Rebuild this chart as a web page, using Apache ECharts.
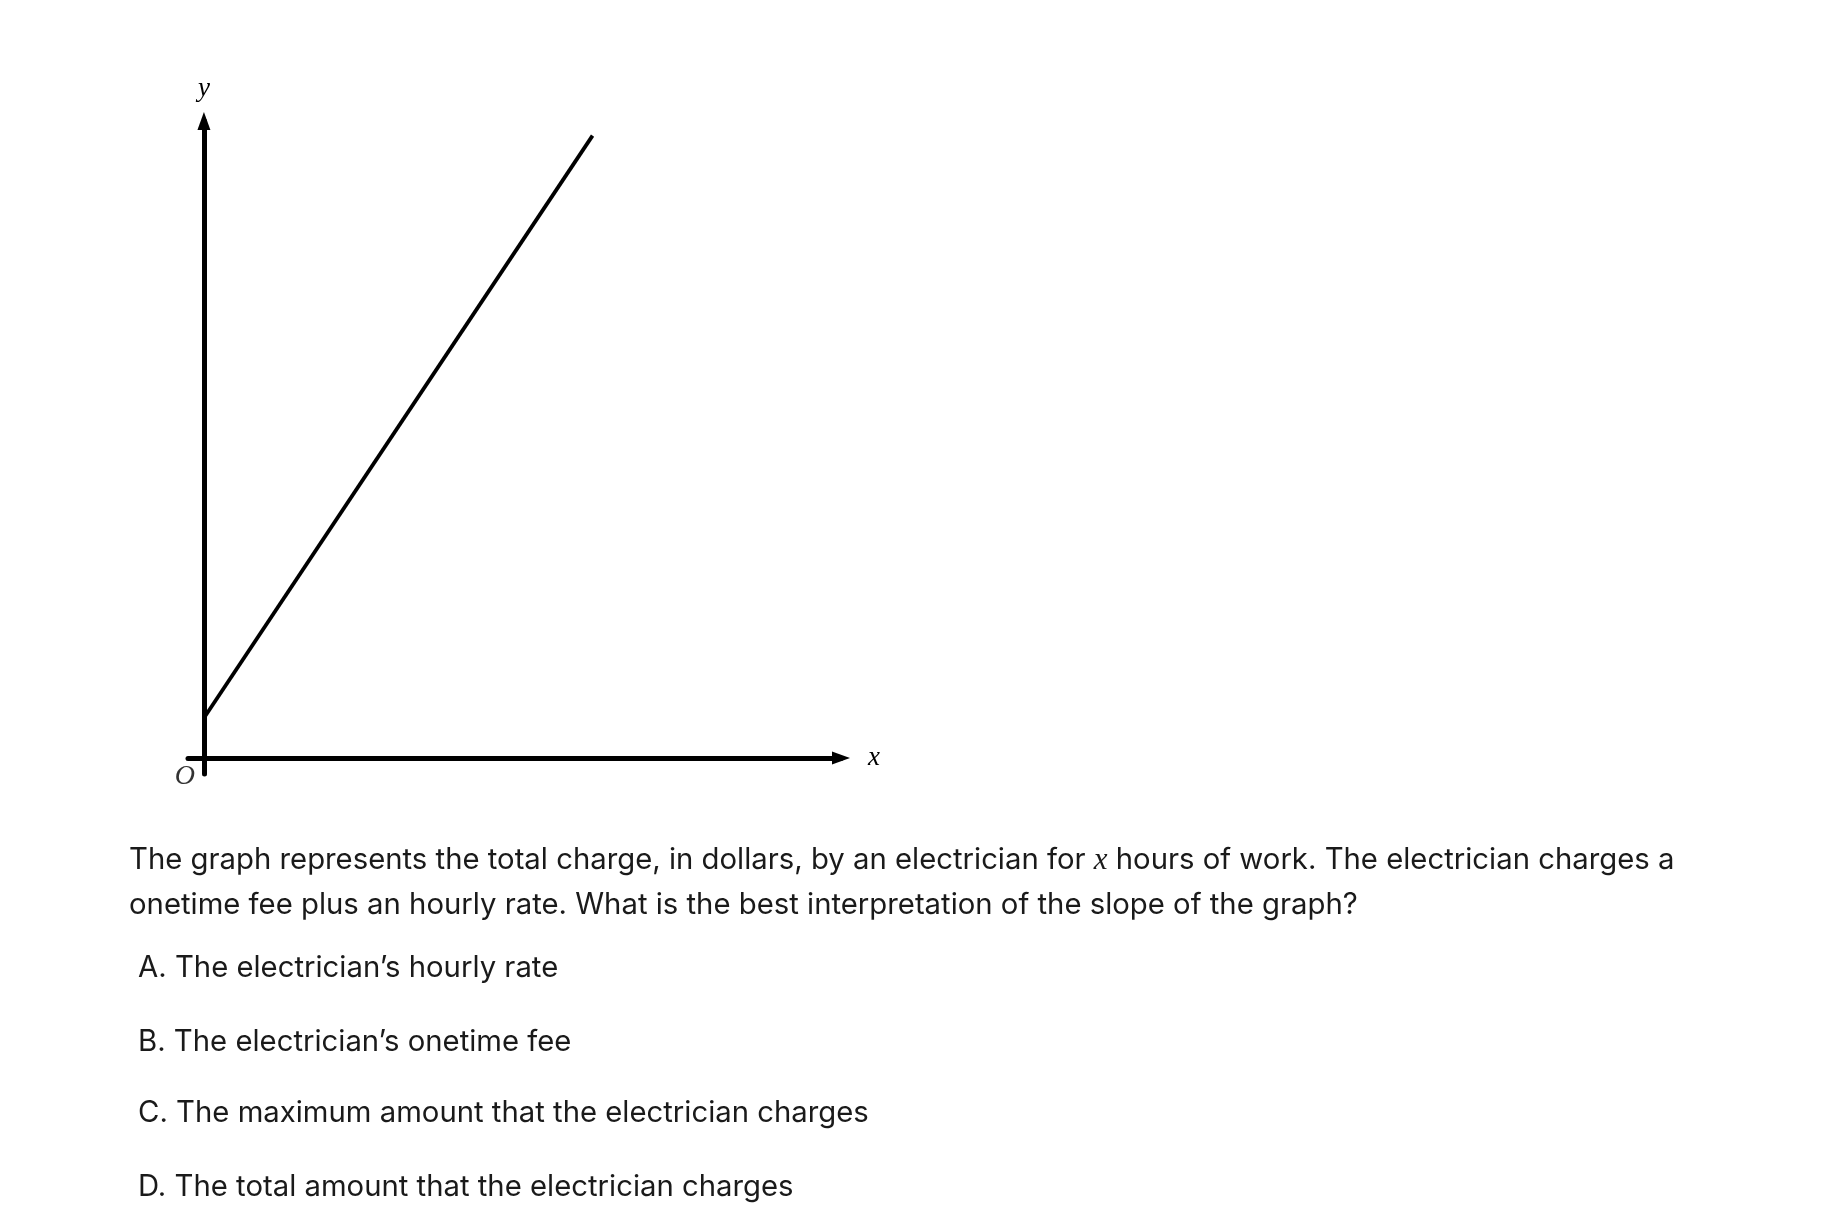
<!DOCTYPE html>
<html><head><meta charset="utf-8">
<script src="https://cdn.jsdelivr.net/npm/echarts@6/dist/echarts.min.js"></script>
<style>html,body{margin:0;padding:0;background:#fff}#c{width:1836px;height:1232px}</style>
</head><body><div id="c"></div>
<script>
// Data
const lineX = [0, 6.1];
const lineY = [0.63, 9.77];
const xName = 'x';
const yName = 'y';
const originLabel = 'O';
const questionLine1 = 'The graph represents the total charge, in dollars, by an electrician for {m|x} hours of work. The electrician charges a';
const questionLine2 = 'onetime fee plus an hourly rate. What is the best interpretation of the slope of the graph?';
const choices = [
  'A. The electrician\u2019s hourly rate',
  'B. The electrician\u2019s onetime fee',
  'C. The maximum amount that the electrician charges',
  'D. The total amount that the electrician charges'
];

const textFont = 'Inter, "Noto Sans", sans-serif';
const textColor = '#1a1a1a';
const textSize = 29.3;
const questionY = [859, 905];
const choiceY = [968, 1042, 1113, 1187];

const chart = echarts.init(document.getElementById('c'), null, {renderer: 'canvas'});

const axisCommon = {
  type: 'value',
  min: -0.25,
  max: 10,
  splitLine: {show: false},
  axisTick: {show: false},
  axisLabel: {show: false},
  axisLine: {
    show: true,
    onZero: true,
    symbol: ['none', 'triangle'],
    symbolSize: [13, 18],
    lineStyle: {color: '#000', width: 5}
  },
  nameLocation: 'end',
  nameTextStyle: {fontFamily: '"Liberation Serif", serif', fontStyle: 'italic', fontSize: 27, color: '#000'}
};

const half = 14;
const graphics = [
  {type: 'text', left: 129, top: questionY[0] - half, style: {
    text: questionLine1, fill: textColor, font: textSize + 'px ' + textFont,
    rich: {m: {fontFamily: '"Liberation Serif", serif', fontStyle: 'italic', fontSize: 31, fill: textColor}}
  }},
  {type: 'text', left: 129, top: questionY[1] - half, style: {text: questionLine2, fill: textColor, font: textSize + 'px ' + textFont}}
];
choices.forEach((c, i) => {
  graphics.push({type: 'text', left: 138, top: choiceY[i] - half, style: {text: c, fill: textColor, font: textSize + 'px ' + textFont}});
});

chart.setOption({
  animation: false,
  backgroundColor: '#fff',
  grid: {left: 188, right: 1836 - 841, top: 121, bottom: 1232 - 774, containLabel: false},
  xAxis: Object.assign({}, axisCommon, {name: xName, nameGap: 27}),
  yAxis: Object.assign({}, axisCommon, {name: yName, nameGap: 19}),
  series: [
    {
      type: 'line',
      data: lineX.map((x, i) => [x, lineY[i]]),
      symbol: 'none',
      lineStyle: {color: '#000', width: 3.8},
      silent: true
    },
    {
      type: 'scatter',
      data: [[0, 0]],
      symbolSize: 1,
      itemStyle: {color: 'rgba(0,0,0,0)'},
      label: {show: true, formatter: originLabel, position: 'inside', offset: [-19, 19],
        fontFamily: '"Liberation Serif", serif', fontStyle: 'italic', fontSize: 28, color: '#000'},
      silent: true
    }
  ],
  graphic: graphics
});
</script>
</body></html>
